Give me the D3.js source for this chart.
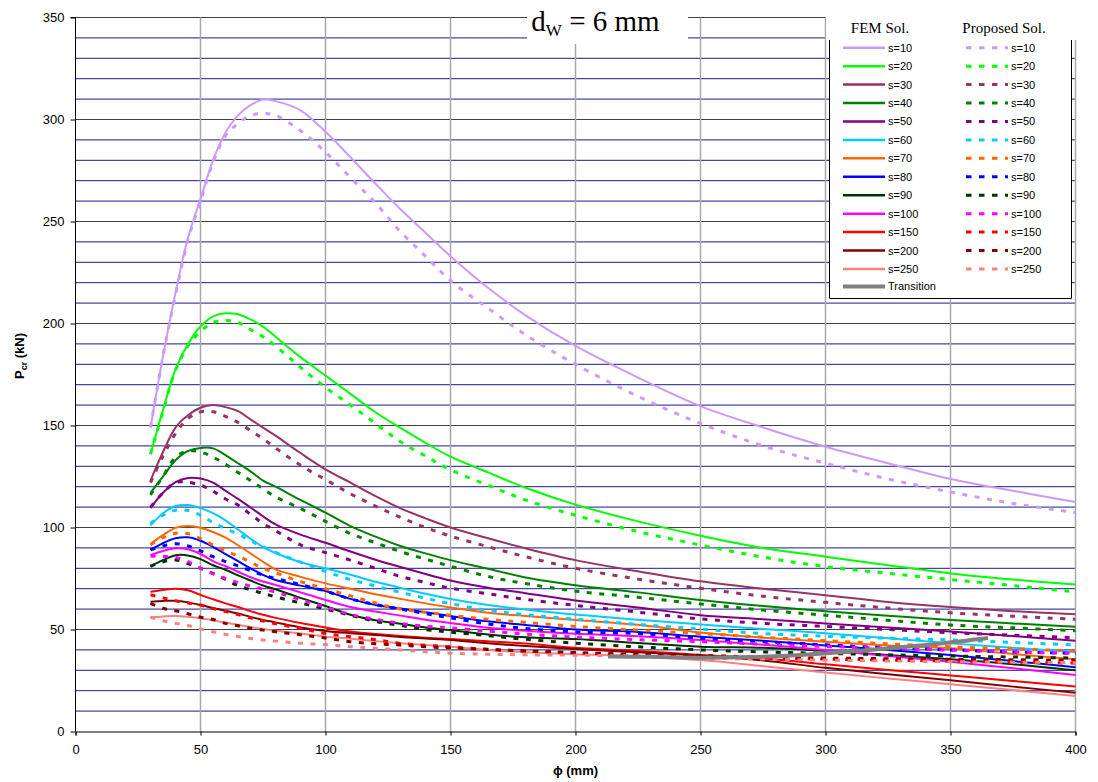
<!DOCTYPE html>
<html>
<head>
<meta charset="utf-8">
<script src="https://cdnjs.cloudflare.com/ajax/libs/d3/7.8.5/d3.min.js"></script>
<style>
  body { margin: 0; background: #fff; }
  svg { display: block; }
</style>
</head>
<body>
<svg id="chart" width="1098" height="782"></svg>
<script>
// phi values (mm) where every curve is read
var phi = [30, 35, 40, 45, 50, 55, 60, 65, 70, 75, 80, 90, 100, 110, 120, 130, 140, 150, 165, 180, 200, 225, 250, 275, 300, 325, 350, 375, 400]

// FEM solution, Pcr (kN)
var fem10 = [149, 184, 215, 242, 261, 280, 293.5, 302, 307, 309.8, 309, 304.5, 294, 281.5, 268.5, 256, 244.5, 233, 217.5, 204, 189, 173.5, 159.5, 149, 139.6, 131.5, 123.8, 118, 112.5]
var fem20 = [136, 157.6, 177.5, 190, 198.5, 203.5, 205, 204.5, 202, 198.5, 193.5, 183.5, 174.5, 165.5, 156.5, 148.8, 141.5, 134.7, 127, 119.5, 111.2, 103, 96, 90, 85.7, 81.5, 77.5, 74.5, 72]
var fem30 = [123, 137, 149, 155, 158.7, 160, 159, 157, 153, 149, 145, 136.5, 128.5, 122, 115.4, 109.4, 104.5, 100, 94.7, 89.8, 84, 78.5, 73.6, 70, 66.8, 63.5, 61, 59, 57.5]
var fem40 = [117, 125, 133, 137.5, 139, 138.8, 135.5, 131.5, 127.5, 123, 120, 113.5, 107.3, 100.7, 95.5, 90.9, 87.3, 84, 79.8, 75.5, 71.7, 68.2, 64.5, 61.5, 59, 56.8, 54.7, 53, 51.4]
var fem50 = [109.5, 117, 122.2, 124.3, 124, 122, 118, 114, 109.8, 105.5, 101.5, 96.5, 92.5, 88.2, 84.2, 80.6, 77.2, 74, 70.5, 67.8, 64.2, 60.8, 57, 55, 53, 51, 49, 46.8, 44.5]
var fem60 = [101, 107, 110.5, 111, 109.5, 107, 103.5, 99, 94.5, 90.5, 87.5, 83, 80, 76.8, 73.4, 70.4, 67.5, 65, 62, 59.8, 57.3, 54.8, 52.5, 50.3, 48.2, 45.7, 43.2, 41, 39]
var fem70 = [92, 96.3, 99.8, 100.7, 99.9, 97.8, 95, 91.3, 87.3, 83.2, 79.5, 75.8, 72.6, 70, 67.3, 65, 62.8, 60.8, 58.2, 56.6, 54.6, 52.3, 48.5, 46, 44, 42.2, 40.8, 38, 35.4]
var fem80 = [89, 92.3, 94.7, 95.2, 93.5, 90.5, 87, 83.5, 80, 76.8, 74.3, 71.5, 68.8, 65, 62, 60.3, 58.5, 56.6, 54, 52.2, 50, 48.8, 46.5, 44.5, 42.2, 40, 37.5, 34.5, 31.5]
var fem90 = [81, 84, 86.4, 86.3, 84.5, 81.5, 79.3, 76.5, 74, 71.6, 69.7, 65.5, 61.5, 57.2, 54.5, 52.8, 51, 49.7, 47.5, 46.2, 45.3, 43.4, 41.6, 41, 39.5, 37.5, 35.4, 33, 30]
var fem100 = [86.5, 88.5, 89.8, 89.3, 87, 83.5, 81, 78.3, 75.6, 73.5, 71.8, 68.2, 64.5, 61, 58.8, 56.8, 54.8, 53.2, 50.8, 49.4, 47.9, 46.7, 44.9, 42.5, 40, 37, 34.2, 31, 27.7]
var fem150 = [68.5, 69.4, 70, 69.2, 67, 64.8, 62.8, 61, 59, 57.2, 55.7, 53.2, 51, 49, 47.8, 46.8, 46, 45.3, 44.2, 43.1, 41, 39.5, 37.5, 35.8, 33, 30.2, 27.5, 24.8, 22]
var fem200 = [63.6, 64, 64.1, 63.3, 62, 60.5, 59.2, 57.8, 56.2, 54.7, 53.5, 51, 49.3, 48.2, 47.3, 46.3, 45.6, 44.9, 43.3, 41.9, 40.4, 38.8, 37.2, 34.8, 31.2, 28.1, 25.1, 22, 19]
var fem250 = [56, 56.4, 56.6, 56.2, 55.5, 54.5, 53.4, 52.3, 51.2, 50.2, 49.4, 48, 46.5, 45.5, 44.3, 43.3, 42.4, 41.6, 40, 38.8, 37.9, 36.8, 35, 32, 28.9, 26, 23.2, 20.3, 17.4]

// proposed solution, Pcr (kN)
var prop10 = [149, 184, 214, 241, 260, 279, 292, 298, 302, 303, 302, 294.5, 284, 271.5, 259, 245, 233, 221, 207.5, 194.5, 180, 164.3, 151, 140, 131.5, 123.8, 117.4, 111.8, 107.3]
var prop20 = [136, 157, 177, 189, 196, 200.5, 201.5, 200.5, 197, 193.5, 189, 178.5, 168.7, 160, 151, 142, 135, 128.3, 120.7, 113.5, 106, 98, 91.4, 85.5, 80.8, 77.5, 74.5, 71.5, 68.5]
var prop30 = [122, 135, 146, 153.5, 156.7, 156.7, 154.5, 151.5, 147.5, 143.5, 139, 130.5, 123.5, 116.5, 110.5, 105, 100, 95.8, 90.6, 85.7, 80, 74.7, 70.2, 66.3, 63.3, 60.5, 58.2, 56.5, 55]
var prop40 = [116, 125, 134.5, 137.5, 137, 134.5, 131, 127, 123, 119, 115, 109.3, 103, 97, 92.5, 88.2, 84.5, 81, 76, 72.5, 68.8, 65.8, 62.5, 59.5, 57, 54.5, 52.2, 50.8, 49.4]
var prop50 = [110, 117, 122, 122.2, 120.8, 117.8, 114, 111, 106.5, 102, 98.5, 91.5, 87.7, 84, 80, 76, 73, 70.3, 67.5, 64.8, 61.8, 58.5, 55.2, 53, 51.5, 50, 48.4, 47.2, 46]
var prop60 = [102, 106, 108.5, 108.3, 106, 102.4, 99.5, 96.8, 93.5, 90.6, 87.8, 83, 78.5, 74.5, 71.3, 68.2, 65.3, 62.7, 59.4, 57.3, 55, 52.5, 50.2, 48, 46.7, 45.7, 44.9, 43.7, 42.4]
var prop70 = [91.5, 95, 97.2, 97, 94.5, 91.4, 88.5, 86, 83, 80, 77.8, 73.5, 70, 66.5, 63, 60, 58.5, 57, 55, 53.5, 51.5, 49.7, 48, 46.2, 44.5, 43, 41.5, 40.5, 39.5]
var prop80 = [89, 91, 92, 91, 88.5, 85.7, 83.3, 81.2, 78.8, 76.7, 75, 72, 68.8, 65, 62.2, 60, 57.8, 55.7, 52.7, 50.5, 48.8, 48, 45.7, 44, 42.5, 41, 40, 39, 38.3]
var prop90 = [81, 83.2, 84.1, 82.3, 80, 77.5, 74.5, 71.5, 69.5, 67.7, 66, 63, 60, 57, 54, 52, 50, 48.7, 47, 45.2, 43.3, 41.5, 40, 39, 38.3, 37.6, 37, 36.5, 36]
var prop100 = [86, 85.8, 85.3, 83.3, 80, 77.4, 75, 73, 71.3, 69.8, 68.3, 64.6, 61, 57.4, 55, 53, 51.6, 50.8, 49.2, 47.7, 46.3, 45, 44, 42.8, 41.7, 40.8, 39.9, 39, 38.3]
var prop150 = [67, 65.5, 64.1, 63, 62, 60.3, 58.8, 57.3, 55.7, 54.2, 52.8, 50.6, 48, 46.5, 45, 43.2, 42.3, 41.5, 40.3, 39.5, 38.5, 37.5, 36.7, 36, 35.5, 35, 34.5, 34, 33.5]
var prop200 = [62.8, 60.4, 59.2, 57.7, 56, 54.9, 53, 51.8, 50.6, 49.7, 48.9, 47.4, 45.8, 44, 43, 42.4, 41.5, 41, 40.2, 39.5, 38.7, 37.8, 37.3, 36.5, 36, 35.7, 35.4, 35.2, 35]
var prop250 = [56, 54.3, 53, 52, 50.3, 48.9, 47.6, 46.6, 45.6, 44.9, 44.3, 43.3, 42.6, 41.6, 40.8, 40, 39.1, 38.4, 37.9, 37.6, 37.4, 37, 36, 35.5, 35, 34.6, 34.2, 34, 33.7]

// transition line
var transPhi = [213, 230, 250, 270, 290, 320, 345, 365]
var transP = [36.8, 36.6, 36.2, 36.5, 37.5, 40.2, 43, 45.8]

var sLabels = ['s=10', 's=20', 's=30', 's=40', 's=50', 's=60', 's=70', 's=80', 's=90', 's=100', 's=150', 's=200', 's=250']
var colors = ['#cc99ff', '#00ff00', '#993366', '#008000', '#800080', '#00ccff', '#ff6600', '#0000ff', '#003300', '#ff00ff', '#ff0000', '#800000', '#ff8080']
var xTicks = [0, 50, 100, 150, 200, 250, 300, 350, 400]
var yTicks = [0, 50, 100, 150, 200, 250, 300, 350]

var femSeries = [fem10, fem20, fem30, fem40, fem50, fem60, fem70, fem80, fem90, fem100, fem150, fem200, fem250]
var propSeries = [prop10, prop20, prop30, prop40, prop50, prop60, prop70, prop80, prop90, prop100, prop150, prop200, prop250]

var svg = d3.select('#chart')
var x = d3.scaleLinear().domain([0, 400]).range([75.5, 1075.5])
var y = d3.scaleLinear().domain([0, 350]).range([731.5, 17.5])

// horizontal grid, every 10 kN
var gridH = svg.append('g')
d3.range(10, 351, 10).forEach(function (v) {
  gridH.append('line')
    .attr('x1', x(0)).attr('x2', x(400))
    .attr('y1', y(v)).attr('y2', y(v))
    .attr('stroke', v % 50 === 0 ? '#404040' : '#1a1a88')
    .attr('stroke-width', 1)
})

// vertical grid
svg.append('g')
  .selectAll('line')
  .data(xTicks.slice(1))
  .join('line')
  .attr('x1', function (d) { return x(d) })
  .attr('x2', function (d) { return x(d) })
  .attr('y1', y(350)).attr('y2', y(0))
  .attr('stroke', '#a8a8a8')
  .attr('stroke-width', 1.5)

// axes
var yAxis = svg.append('g')
  .attr('transform', 'translate(' + x(0) + ',0)')
  .call(d3.axisLeft(y).tickValues(yTicks).tickSize(5).tickPadding(6))
var xAxis = svg.append('g')
  .attr('transform', 'translate(0,' + y(0) + ')')
  .call(d3.axisBottom(x).tickValues(xTicks).tickSize(4).tickPadding(9))
;[yAxis, xAxis].forEach(function (ax) {
  ax.selectAll('path, line').attr('stroke', '#000').attr('stroke-width', 1)
  ax.selectAll('text')
    .attr('fill', '#000')
    .style('font-family', 'Liberation Sans, Arial, sans-serif')
    .style('font-size', '13px')
})
yAxis.select('.domain').attr('d', 'M-5,' + y(350) + 'H0V' + y(0))

// axis titles
var yTitle = svg.append('text')
  .attr('transform', 'translate(24,356) rotate(-90)')
  .attr('text-anchor', 'middle')
  .style('font-family', 'Liberation Sans, Arial, sans-serif')
  .style('font-size', '13px')
  .style('font-weight', 'bold')
yTitle.append('tspan').text('P')
yTitle.append('tspan').attr('dy', 3).style('font-size', '9px').text('cr')
yTitle.append('tspan').attr('dy', -3).text(' (kN)')

svg.append('text')
  .attr('x', 575.5).attr('y', 775)
  .attr('text-anchor', 'middle')
  .style('font-family', 'Liberation Sans, Arial, sans-serif')
  .style('font-size', '13px')
  .style('font-weight', 'bold')
  .text('\u03d5 (mm)')

// title box
svg.append('rect').attr('x', 527).attr('y', 0).attr('width', 161).attr('height', 44).attr('fill', '#fff')
var title = svg.append('text')
  .attr('x', 595.5).attr('y', 31)
  .attr('text-anchor', 'middle')
  .style('font-family', 'Liberation Serif, Times New Roman, serif')
  .style('font-size', '29px')
title.append('tspan').text('d')
title.append('tspan').attr('dy', 5).style('font-size', '17px').text('W')
title.append('tspan').attr('dy', -5).text(' = 6 mm')

// curves
var line = d3.line()
  .x(function (d) { return x(d[0]) })
  .y(function (d) { return y(d[1]) })
  .curve(d3.curveCatmullRom.alpha(0.5))

var curves = svg.append('g').attr('fill', 'none')
femSeries.forEach(function (vals, i) {
  curves.append('path')
    .attr('d', line(d3.zip(phi, vals)))
    .attr('stroke', colors[i])
    .attr('stroke-width', 2)
})
propSeries.forEach(function (vals, i) {
  curves.append('path')
    .attr('d', line(d3.zip(phi, vals)))
    .attr('stroke', colors[i])
    .attr('stroke-width', 3)
    .attr('stroke-dasharray', '5,7.5')
})
curves.append('path')
  .attr('d', line(d3.zip(transPhi, transP)))
  .attr('stroke', '#808080')
  .attr('stroke-width', 4)

// legend
svg.append('rect').attr('x', 826).attr('y', 0).attr('width', 272).attr('height', 40).attr('fill', '#fff')
svg.append('rect').attr('x', 829.5).attr('y', 40).attr('width', 242).attr('height', 258.5).attr('fill', '#fff')
svg.append('path')
  .attr('d', 'M829.5,40V298.5H1071.5V40')
  .attr('fill', 'none').attr('stroke', '#000').attr('stroke-width', 1)

var headFont = 'Liberation Serif, Times New Roman, serif'
svg.append('text').attr('x', 880).attr('y', 33).attr('text-anchor', 'middle')
  .style('font-family', headFont).style('font-size', '15px').text('FEM Sol.')
svg.append('text').attr('x', 1004).attr('y', 33).attr('text-anchor', 'middle')
  .style('font-family', headFont).style('font-size', '15px').text('Proposed Sol.')

var rowY = function (i) { return 47.7 + i * 18.44 }
var lg = svg.append('g')
  .style('font-family', 'Liberation Sans, Arial, sans-serif')
  .style('font-size', '11px')
sLabels.forEach(function (lab, i) {
  var yy = rowY(i)
  lg.append('line').attr('x1', 843).attr('x2', 885).attr('y1', yy).attr('y2', yy)
    .attr('stroke', colors[i]).attr('stroke-width', 2.5)
  lg.append('text').attr('x', 888).attr('y', yy + 4).text(lab)
  lg.append('line').attr('x1', 966).attr('x2', 1008).attr('y1', yy).attr('y2', yy)
    .attr('stroke', colors[i]).attr('stroke-width', 3).attr('stroke-dasharray', '5.5,7.5')
  lg.append('text').attr('x', 1011).attr('y', yy + 4).text(lab)
})
lg.append('line').attr('x1', 843).attr('x2', 885).attr('y1', rowY(13) - 1).attr('y2', rowY(13) - 1)
  .attr('stroke', '#808080').attr('stroke-width', 4)
lg.append('text').attr('x', 888).attr('y', rowY(13) + 3).text('Transition')
</script>
</body>
</html>
